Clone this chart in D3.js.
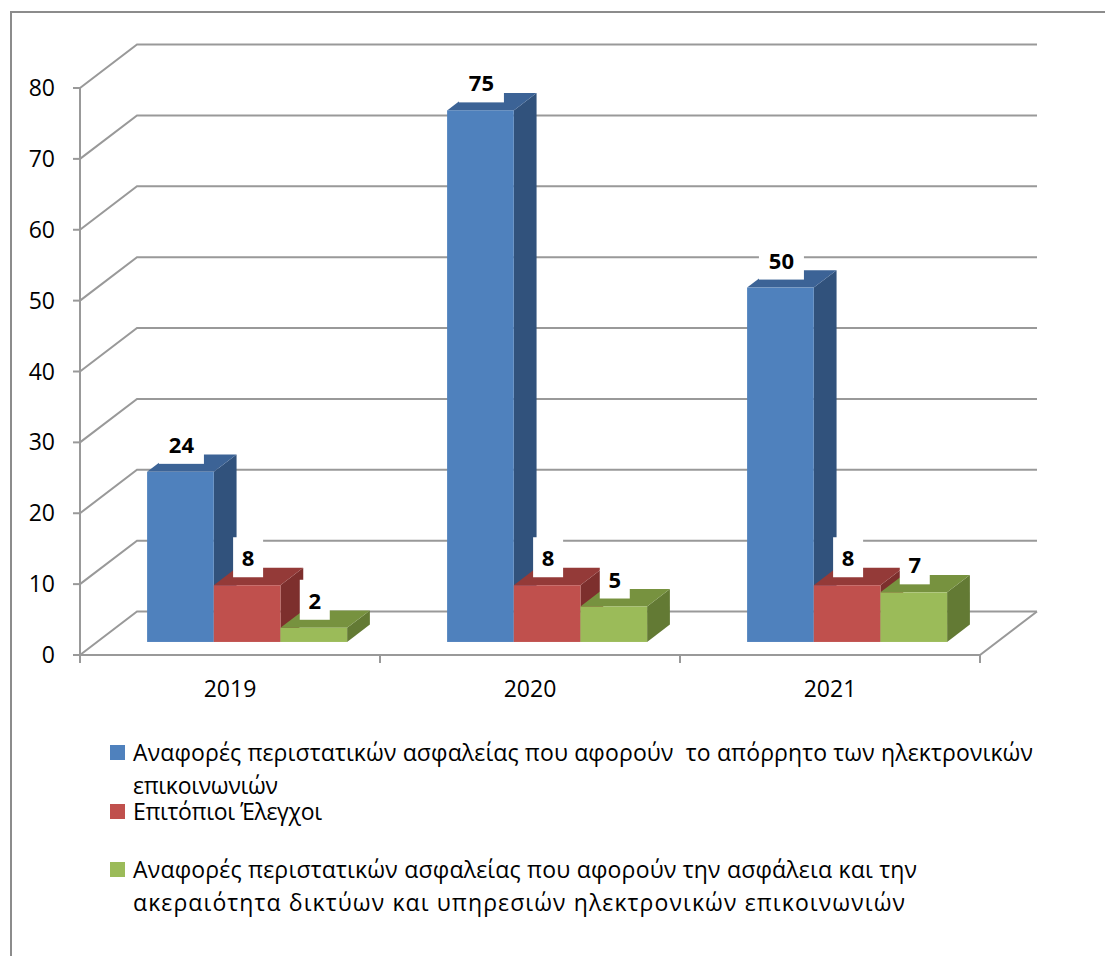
<!DOCTYPE html>
<html><head><meta charset="utf-8">
<script src="https://cdn.jsdelivr.net/npm/d3@7"></script>
<style>body{margin:0;background:#fff}svg{display:block}text{font-family:"Open Sans","Noto Sans",sans-serif}</style>
</head><body><svg id="c" width="1105" height="956"></svg>
<script>
const categories = ["2019", "2020", "2021"];
const seriesNames = ["s1", "s2", "s3"];
const series1 = [24, 75, 50];
const series2 = [8, 8, 8];
const series3 = [2, 5, 7];
const yTicks = [0, 10, 20, 30, 40, 50, 60, 70, 80];
const legendLines = [
  ["Αναφορές περιστατικών ασφαλείας που αφορούν  το απόρρητο των ηλεκτρονικών", "επικοινωνιών"],
  ["Επιτόπιοι Έλεγχοι"],
  ["Αναφορές περιστατικών ασφαλείας που αφορούν την ασφάλεια και την", "ακεραιότητα δικτύων και υπηρεσιών ηλεκτρονικών επικοινωνιών"]
];
// layout: rendered widths of the legend lines (px)
const legendWidths = [[900, 145], [189], [784, 772]];
const colors = [
  {front: "#4F81BD", top: "#3C6396", side: "#31527C"},
  {front: "#C0504D", top: "#943A38", side: "#7D2F2D"},
  {front: "#9BBB59", top: "#77923F", side: "#637A34"}
];

const svg = d3.select("#c");
const DX = 57, DY = -43.5;
const FF = 0.3, BF = 0.7;
const x = d3.scaleBand().domain(categories).range([80, 980]).paddingInner(0).paddingOuter(0);
const xs = d3.scaleBand().domain(seriesNames).range([0, x.bandwidth()]).paddingInner(0).paddingOuter(0.75);
const y = d3.scaleLinear().domain([0, 80]).range([655, 88]);

// border
svg.append("rect").attr("x", 11).attr("y", 12).attr("width", 1200).attr("height", 1200)
  .attr("fill", "none").attr("stroke", "#8c8c8c").attr("stroke-width", 2);

const grid = svg.append("g").attr("stroke", "#999").attr("stroke-width", 2).attr("fill", "none");
yTicks.forEach(v => {
  grid.append("path").attr("d", `M${80},${y(v)}L${80 + DX},${y(v) + DY}L${980 + DX},${y(v) + DY}`);
});
// floor front + right edge
grid.append("path").attr("d", `M80,${y(0)}L980,${y(0)}L${980 + DX},${y(0) + DY}`);
// y axis
grid.append("line").attr("x1", 80).attr("x2", 80).attr("y1", y(80)).attr("y2", y(0));
yTicks.forEach(v => grid.append("line").attr("x1", 73).attr("x2", 80).attr("y1", y(v)).attr("y2", y(v)));
// x ticks
const xt = categories.map(c => x(c)).concat([x(categories[2]) + x.bandwidth()]);
xt.forEach(t => grid.append("line").attr("x1", t).attr("x2", t).attr("y1", y(0)).attr("y2", y(0) + 8));

// y labels
svg.append("g").selectAll("text").data(yTicks).join("text")
  .attr("x", 55).attr("y", d => y(d) + 8).attr("text-anchor", "end")
  .attr("font-size", 23).attr("fill", "#000").text(d => d);
// x labels
svg.append("g").selectAll("text").data(categories).join("text")
  .attr("x", d => x(d) + x.bandwidth() / 2).attr("y", 697).attr("text-anchor", "middle")
  .attr("font-size", 23).attr("fill", "#000").text(d => d);

// bars
const allSeries = [series1, series2, series3];
const bars = svg.append("g");
const labels = [];
categories.forEach((c, ci) => {
  seriesNames.forEach((s, si) => {
    const v = allSeries[si][ci];
    const x0 = x(c) + xs(s) + DX * FF, x1 = x0 + xs.bandwidth();
    const yb = y(0) + DY * FF, yt = y(v) + DY * FF;
    const dx = DX * (BF - FF), dy = DY * (BF - FF);
    const col = colors[si];
    bars.append("path").attr("fill", col.side)
      .attr("d", `M${x1},${yb}L${x1 + dx},${yb + dy}L${x1 + dx},${yt + dy}L${x1},${yt}Z`);
    bars.append("path").attr("fill", col.top)
      .attr("d", `M${x0},${yt}L${x1},${yt}L${x1 + dx},${yt + dy}L${x0 + dx},${yt + dy}Z`);
    bars.append("rect").attr("fill", col.front).attr("x", x0).attr("y", yt).attr("width", x1 - x0).attr("height", yb - yt);
    labels.push({v, cx: (x0 + x1) / 2 + 1, bottom: yt - 8});
  });
});
const lg = svg.append("g");
labels.forEach(l => {
  const w = String(l.v).length === 1 ? 30 : 45;
  lg.append("rect").attr("x", l.cx - w / 2).attr("y", l.bottom - 40).attr("width", w).attr("height", 40).attr("fill", "#fff");
  lg.append("text").attr("x", l.cx).attr("y", l.bottom - 11).attr("text-anchor", "middle")
    .attr("font-size", 22).attr("font-weight", "bold").attr("fill", "#000").text(l.v);
});

// legend
const legY = [745, 804, 862];
const leg = svg.append("g");
legendLines.forEach((lines, i) => {
  leg.append("rect").attr("x", 110).attr("y", legY[i]).attr("width", 15).attr("height", 15).attr("fill", colors[i].front);
  lines.forEach((t, j) => {
    leg.append("text").attr("x", 133).attr("y", legY[i] + 15.5 + j * 33)
      .attr("font-size", 23).attr("fill", "#000").style("white-space", "pre")
      .attr("textLength", legendWidths[i][j]).attr("lengthAdjust", "spacing").text(t);
  });
});
</script></body></html>
